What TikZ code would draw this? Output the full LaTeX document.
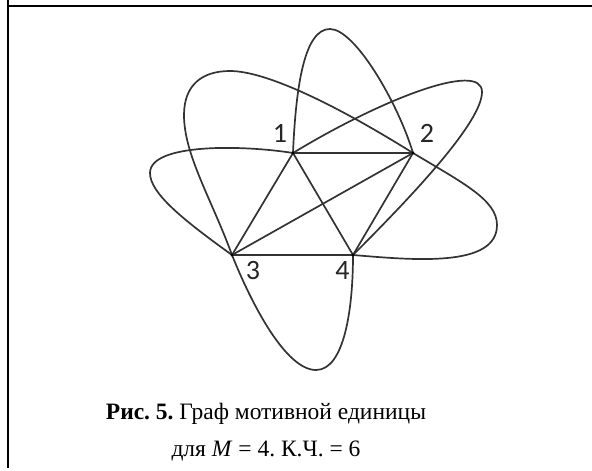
\documentclass[tikz,border=0pt]{standalone}
\usepackage{fontspec}
\setmainfont{Liberation Serif}
\newfontfamily\labelfont{Carlito}
\frenchspacing

\begin{document}
\begin{tikzpicture}[x=1pt, y=-1pt, line width=1.7pt, draw=black!80,
    vlabel/.style={font=\labelfont\fontsize{28}{28}\selectfont, text=black!85, inner sep=0pt},
    caption/.style={font=\fontsize{23.5}{37}\selectfont, align=center, inner sep=0pt}]

    \useasboundingbox (0,0) rectangle (592,471);

    % --- Frame ---
    \draw[black, line width=2pt] (8,0) -- (8,468);
    \draw[black, line width=2pt] (8,6) -- (592,6);

    % --- Vertices ---
    \coordinate (V1) at (293,153);
    \coordinate (V2) at (413,153);
    \coordinate (V3) at (232,255);
    \coordinate (V4) at (353,255);

    % --- Petal tips ---
    \coordinate (T12) at (330,29);
    \coordinate (T13) at (150,173);
    \coordinate (T32a) at (184,115);
    \coordinate (T32b) at (230,71);
    \coordinate (T14) at (482,92);
    \coordinate (T24) at (497,225);
    \coordinate (T34) at (316,370);

    % --- Straight edges ---
    \draw (V1) -- (V2);
    \draw (V1) -- (V3);
    \draw (V1) -- (V4);
    \draw (V2) -- (V3);
    \draw (V2) -- (V4);
    \draw (V3) -- (V4);

    % --- Petals ---
    \draw (V1) .. controls +(3,-70) and +(-25,0) .. (T12)
               .. controls +(25,0) and +(-15,-50) .. (V2);
    \draw (V1) .. controls +(-50,-8) and +(0,-30) .. (T13)
               .. controls +(0,20) and +(-50,-36) .. (V3);
    \draw (V3) .. controls +(-20,-55) and +(0,40) .. (T32a)
               .. controls +(0,-30) and +(-28,0) .. (T32b)
               .. controls +(35,0) and +(-80,-50) .. (V2);
    \draw (V1) .. controls +(87,-53) and +(0,-32) .. (T14)
               .. controls +(0,30) and +(60,-60) .. (V4);
    \draw (V2) .. controls +(50,30) and +(0,-25) .. (T24)
               .. controls +(0,43) and +(60,5) .. (V4);
    \draw (V3) .. controls +(20,50) and +(-30,0) .. (T34)
               .. controls +(28,0) and +(0,55) .. (V4);

    % --- Vertex dots ---
    \foreach \v in {V1,V2,V3,V4}
        \fill[black] (\v) circle (1.6);

    % --- Labels ---
    \node[vlabel] (L1) at (280,133) {1};
    \node[vlabel] (L2) at (427,133) {2};
    \node[vlabel] (L3) at (253,271) {3};
    \node[vlabel] (L4) at (342.5,271) {4};

    % --- Caption ---
    \node[caption] (cap) at (266,432) {\textbf{Рис. 5.} Граф мотивной единицы\\для \textit{M} = 4. К.Ч. = 6};

\end{tikzpicture}
\end{document}
